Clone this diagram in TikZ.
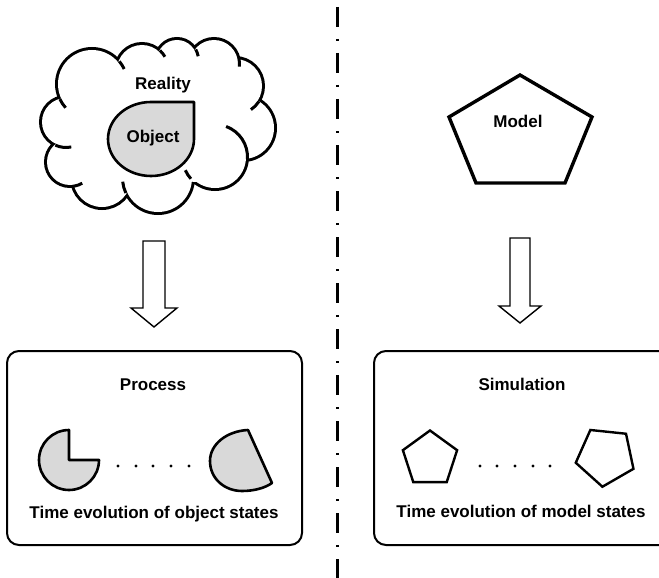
\documentclass[tikz,border=0pt]{standalone}
\usepackage{fontspec}
\setmainfont{Liberation Sans}
\definecolor{objgray}{HTML}{D9D9D9}
\begin{document}
\begin{tikzpicture}[x=1pt,y=-1pt,
  lbl/.style={font=\bfseries\fontsize{17}{20}\selectfont, inner sep=0pt, anchor=base},
  framebox/.style={draw, line width=2pt, rounded corners=12pt, inner sep=0pt},
  objshape/.style={draw, fill=objgray, line width=2.6pt, line join=round},
  pentline/.style={draw, line width=2.4pt, line join=miter},
  blockarrow/.style={draw, fill=white, line width=1.4pt, line join=miter},
  dotmark/.style={fill=black},
  cloudtick/.style={line width=3pt, line cap=butt},
  divider/.style={line width=2.4pt, dash pattern=on 20pt off 12pt on 2.4pt off 11.6pt}
]
\useasboundingbox (0,0) rectangle (659,578);
\clip (0,0) rectangle (659,578);

% ---------- cloud (Reality) ----------
\def\cloudcircles{(66,122) circle[radius=24] (70,162) circle[radius=23]
  (102,178) circle[radius=29] (158,178) circle[radius=34]
  (215,157) circle[radius=31] (243,128) circle[radius=31]
  (235,86) circle[radius=27] (214,64) circle[radius=24]
  (177,60) circle[radius=20] (142,70) circle[radius=25]
  (92,84) circle[radius=34]}
\draw[line width=6pt] \cloudcircles;
\fill[white] \cloudcircles;
\fill[white] (157,125) ellipse[x radius=85, y radius=55];
\fill[white] (195,92) circle[radius=26] (120,95) circle[radius=26]
  (120,160) circle[radius=22] (195,160) circle[radius=22];
% inner ticks of the cloud
\draw[cloudtick] (92,84) ++(154.9:35.5) arc[start angle=154.9, end angle=138, radius=35.5];
\draw[cloudtick] (66,122) ++(114.7:25.5) arc[start angle=114.7, end angle=78, radius=25.5];
\draw[cloudtick] (70,162) ++(80.6:24.5) arc[start angle=80.6, end angle=60, radius=24.5];
\draw[cloudtick] (158,178) ++(155:35.5) arc[start angle=155, end angle=174, radius=35.5];
\draw[cloudtick] (215,157) ++(137.9:32.5) arc[start angle=137.9, end angle=156, radius=32.5];
\draw[cloudtick] (215,157) ++(3.4:32.5) arc[start angle=3.4, end angle=-70, radius=32.5];
\draw[cloudtick] (235,86) ++(33:28.5) arc[start angle=33, end angle=56, radius=28.5];
\draw[cloudtick] (214,64) ++(-11.8:25.5) arc[start angle=-11.8, end angle=6, radius=25.5];
\draw[cloudtick] (177,60) ++(-29.4:21.5) arc[start angle=-29.4, end angle=-10, radius=21.5];
\draw[cloudtick] (142,70) ++(-47.6:26.5) arc[start angle=-47.6, end angle=-30, radius=26.5];
\draw[cloudtick] (92,84) ++(-39.6:35.5) arc[start angle=-39.6, end angle=-25, radius=35.5];
\node[lbl] (reality) at (163,89) {Reality};

% ---------- Object teardrop ----------
\draw[objshape] (194,139) arc[start angle=0, end angle=270, x radius=43, y radius=37] -- (194,102) -- cycle;
\node[lbl] (object) at (153,142) {Object};

% ---------- Model pentagon ----------
\draw[line width=3.4pt, line join=miter] (520,75) -- (592,117) -- (565,183) -- (476,183) -- (449,117) -- cycle;
\node[lbl] (model) at (518,128) {Model};

% ---------- arrows ----------
\coordinate (a1top) at (154,241);
\coordinate (a1tip) at (154,327);
\draw[blockarrow] (a1top) ++(-11,0) -- ++(22,0) -- (165,308) -- (177,308) -- (a1tip) -- (131,308) -- (143,308) -- cycle;
\coordinate (a2top) at (520,238);
\coordinate (a2tip) at (520,323);
\draw[blockarrow] (a2top) ++(-10,0) -- ++(20,0) -- (530,306) -- (541,306) -- (a2tip) -- (499,306) -- (510,306) -- cycle;

% ---------- boxes ----------
\node[framebox, minimum width=295, minimum height=194] (proc) at (154.5,448) {};
\node[framebox, minimum width=330, minimum height=194] (sim) at (539,448) {};
\node[lbl] (process) at (153,390) {Process};
\node[lbl] (simulation) at (522,390) {Simulation};
\node[lbl] (objstates) at (154,518) {Time evolution of object states};
\node[lbl] (modstates) at (521,517) {Time evolution of model states};

% ---------- object states ----------
\coordinate (pac) at (69,460);
\draw[objshape] (pac) -- (99,460) arc[start angle=0, end angle=270, radius=30] -- cycle;
\draw[objshape] (248,430) .. controls (227,431) and (210,444) .. (210,461)
  .. controls (210,479) and (225,491) .. (242,491)
  .. controls (254,491) and (265,488) .. (272,483) -- cycle;
\foreach \x in {118,136,153,171,189} \fill[dotmark] (\x,466) circle[radius=1.7];

% ---------- model states ----------
\coordinate (p1) at (430,459);
\draw[pentline] ([shift={(270:28.5)}]p1) -- ([shift={(342:28.5)}]p1) -- ([shift={(54:28.5)}]p1) -- ([shift={(126:28.5)}]p1) -- ([shift={(198:28.5)}]p1) -- cycle;
\coordinate (p2) at (605.6,456.4);
\draw[pentline] ([shift={(240:30.5)}]p2) -- ([shift={(312:30.5)}]p2) -- ([shift={(24:30.5)}]p2) -- ([shift={(96:30.5)}]p2) -- ([shift={(168:30.5)}]p2) -- cycle;
\foreach \x in {480,497,515,533,550} \fill[dotmark] (\x,466) circle[radius=1.7];

% ---------- divider ----------
\coordinate (dtop) at (337.5,7);
\coordinate (dbot) at (337.5,590);
\draw[divider] (dtop) -- (dbot);
\end{tikzpicture}
\end{document}
